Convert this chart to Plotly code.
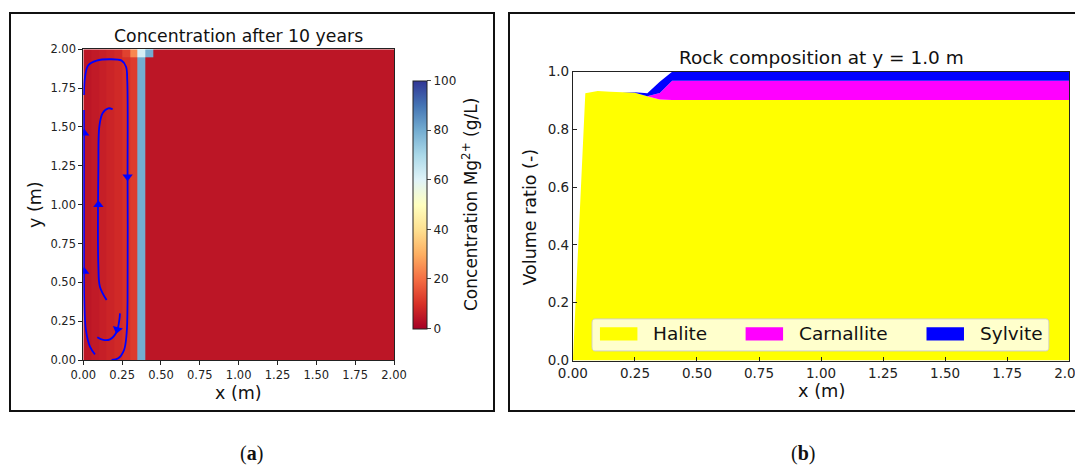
import plotly.graph_objects as go

# ---------------- data: panel (a) ----------------
cell_x_edges = [0.0, 0.05, 0.10, 0.15, 0.20, 0.25, 0.30, 0.35, 0.40, 0.45, 2.0]
cell_y_edges = [0.0, 1.95, 2.0]
conc_lower_rows = [4.5, 5.5, 6.5, 7.5, 8.5, 10, 12, 80, 4.5, 4.5]
conc_top_row = [4.5, 5.5, 6.5, 7.5, 8.5, 13, 24, 62, 80, 4.5]

stream_outer_x = [0.004, 0.011, 0.032, 0.086, 0.17, 0.247, 0.275, 0.283, 0.285, 0.285, 0.279, 0.262, 0.225, 0.182]
stream_outer_y = [1.706, 1.82, 1.897, 1.927, 1.936, 1.927, 1.888, 1.80, 1.18, 0.386, 0.172, 0.064, 0.011, 0.0]
stream_edge_x = [0.075, 0.043, 0.017, 0.006, 0.004, 0.004]
stream_edge_y = [0.036, 0.086, 0.193, 0.386, 0.815, 1.61]
stream_inner_x = [0.15, 0.107, 0.097, 0.097, 0.103, 0.124, 0.161, 0.189]
stream_inner_y = [0.386, 0.472, 0.60, 1.245, 1.502, 1.588, 1.62, 1.614]
stream_hook_x = [0.236, 0.232, 0.215, 0.172, 0.129, 0.09]
stream_hook_y = [0.30, 0.258, 0.182, 0.133, 0.129, 0.146]
arrow_x = [0.285, 0.006, 0.006, 0.097, 0.219]
arrow_y = [1.18, 1.46, 0.57, 1.0, 0.197]
arrow_angle = [180, 0, 0, 0, 195]

# ---------------- data: panel (b) ----------------
pos_x = [0.0, 0.05, 0.10, 0.15, 0.20, 0.25, 0.30, 0.35, 0.40, 2.0]
halite = [0.0, 0.925, 0.933, 0.931, 0.929, 0.927, 0.915, 0.904, 0.902, 0.902]
carnallite = [0.0, 0.0, 0.0, 0.0, 0.0, 0.0, 0.0, 0.022, 0.067, 0.067]
sylvite = [0.0, 0.0, 0.0, 0.0, 0.0, 0.002, 0.010, 0.039, 0.031, 0.031]
mineral_names = ["Halite", "Carnallite", "Sylvite"]
mineral_colors = ["#ffff00", "#ff00ff", "#0000ff"]

W, H = 1083, 466
OFF = 8  # the page places the figure 8 px from the top-left corner
FONT = "DejaVu Sans"


def px(x):
    return (x - OFF) / W


def py(y):
    return 1 - (y - OFF) / H


fig = go.Figure()

fig.add_trace(go.Heatmap(
    x=cell_x_edges, y=cell_y_edges, z=[conc_lower_rows, conc_top_row],
    zmin=0, zmax=100, colorscale="RdYlBu", xaxis="x", yaxis="y",
    colorbar=dict(
        x=px(413), xanchor="left", xpad=0, y=py(204.5), yanchor="middle",
        len=247.6 / H, lenmode="fraction", thickness=13.5, thicknessmode="pixels",
        outlinewidth=1, outlinecolor="#222", ypad=0,
        tickvals=[0, 20, 40, 60, 80, 100], ticks="outside", ticklen=4,
        tickfont=dict(family=FONT, size=12, color="#222"),
    ),
    hoverinfo="skip",
))

stream_style = dict(mode="lines", line=dict(color="#0000ff", width=1.8),
                    xaxis="x", yaxis="y", showlegend=False, hoverinfo="skip")
for sx, sy in [(stream_outer_x, stream_outer_y), (stream_edge_x, stream_edge_y),
               (stream_inner_x, stream_inner_y), (stream_hook_x, stream_hook_y)]:
    fig.add_trace(go.Scatter(x=sx, y=sy, line_shape="spline", **stream_style))

fig.add_trace(go.Scatter(
    x=arrow_x, y=arrow_y, mode="markers", xaxis="x", yaxis="y",
    marker=dict(symbol="triangle-up", size=9, color="#0000ff", angle=arrow_angle,
                line=dict(width=0)),
    showlegend=False, hoverinfo="skip"))

for name, vals, col in zip(mineral_names, [halite, carnallite, sylvite], mineral_colors):
    fig.add_trace(go.Scatter(
        x=pos_x, y=vals, name=name, stackgroup="rock", mode="none",
        fillcolor=col, line=dict(width=0), xaxis="x2", yaxis="y2",
        showlegend=False))

axis_common = dict(showline=True, linecolor="#222", linewidth=1, mirror=True,
                   showgrid=False, zeroline=False, tickcolor="#222", automargin=False)
ticks_x = [0, 0.25, 0.5, 0.75, 1, 1.25, 1.5, 1.75, 2]

fig.update_layout(
    width=W, height=H,
    margin=dict(l=0, r=0, t=0, b=0, pad=0, autoexpand=False),
    paper_bgcolor="white", plot_bgcolor="white",
    font=dict(family=FONT, color="#222"),
    showlegend=False,
    xaxis=dict(domain=[px(83.3), px(394)], range=[0, 2], tickvals=ticks_x,
               tickformat=".2f", ticks="outside", ticklen=4,
               tickfont=dict(size=11.5), anchor="y", **axis_common),
    yaxis=dict(domain=[py(360), py(49.3)], range=[0, 2], tickvals=ticks_x,
               tickformat=".2f", ticks="outside", ticklen=4,
               tickfont=dict(size=11.5), anchor="x", **axis_common),
    xaxis2=dict(domain=[px(572.9), px(1069.2)], range=[0, 2], tickvals=ticks_x,
                tickformat=".2f", ticks="inside", ticklen=4,
                tickfont=dict(size=13.5), anchor="y2", **axis_common),
    yaxis2=dict(domain=[py(360.5), py(71.7)], range=[0, 1], tickvals=[0, 0.2, 0.4, 0.6, 0.8, 1.0],
                tickformat=".1f", ticks="inside", ticklen=4,
                tickfont=dict(size=13.5), anchor="x2", **axis_common),
)

ann = []


def add_text(text, x, y, size, angle=0, family=FONT, xref="paper", yref="paper", xanchor="center"):
    ann.append(dict(text=text, x=x, y=y, xref=xref, yref=yref, showarrow=False,
                    xanchor=xanchor, yanchor="middle", textangle=angle,
                    font=dict(family=family, size=size, color="#111")))


add_text("Concentration after 10 years", px(238.5), py(36), 17.3)
add_text("x (m)", px(238.5), py(393), 17.5)
add_text("y (m)", px(35), py(205), 17.5, angle=-90)
add_text("Concentration Mg<sup>2+</sup> (g/L)", px(470), py(205), 17, angle=-90)
add_text("Rock composition at y = 1.0 m", px(821), py(58), 18.5)
add_text("x (m)", px(821), py(390), 17.8)
add_text("Volume ratio (-)", px(530), py(217.5), 17.5, angle=-90)
add_text("(<b>a</b>)", px(251), py(453), 20, family="Liberation Serif")
add_text("(<b>b</b>)", px(803), py(453), 20, family="Liberation Serif")

shapes = [
    dict(type="rect", xref="paper", yref="paper", x0=px(10), x1=px(494), y0=py(411), y1=py(13),
         line=dict(color="#111", width=2), fillcolor="rgba(0,0,0,0)"),
    dict(type="rect", xref="paper", yref="paper", x0=px(509), x1=px(1100), y0=py(411), y1=py(13),
         line=dict(color="#111", width=2), fillcolor="rgba(0,0,0,0)"),
]

# legend of panel (b), drawn inside the axes
lx0, lx1, ly0, ly1 = 0.077, 1.918, 0.033, 0.144
r = 0.012
ry = 0.014
path = (f"M {lx0 + r},{ly0} L {lx1 - r},{ly0} Q {lx1},{ly0} {lx1},{ly0 + ry} "
        f"L {lx1},{ly1 - ry} Q {lx1},{ly1} {lx1 - r},{ly1} L {lx0 + r},{ly1} "
        f"Q {lx0},{ly1} {lx0},{ly1 - ry} L {lx0},{ly0 + ry} Q {lx0},{ly0} {lx0 + r},{ly0} Z")
shapes.append(dict(type="path", path=path, xref="x2", yref="y2",
                   fillcolor="rgba(255,255,255,0.8)", line=dict(color="rgba(204,204,204,0.9)", width=1)))
swatch_x0 = [0.109, 0.696, 1.425]
text_x0 = [0.315, 0.905, 1.634]
for name, col, sx, tx in zip(mineral_names, mineral_colors, swatch_x0, text_x0):
    shapes.append(dict(type="rect", xref="x2", yref="y2", x0=sx, x1=sx + 0.151,
                       y0=0.069, y1=0.115, fillcolor=col, line=dict(width=0)))
    add_text(name, tx, 0.092, 18.5, xref="x2", yref="y2", xanchor="left")

fig.update_layout(annotations=ann, shapes=shapes)

fig.write_html("out.html")
